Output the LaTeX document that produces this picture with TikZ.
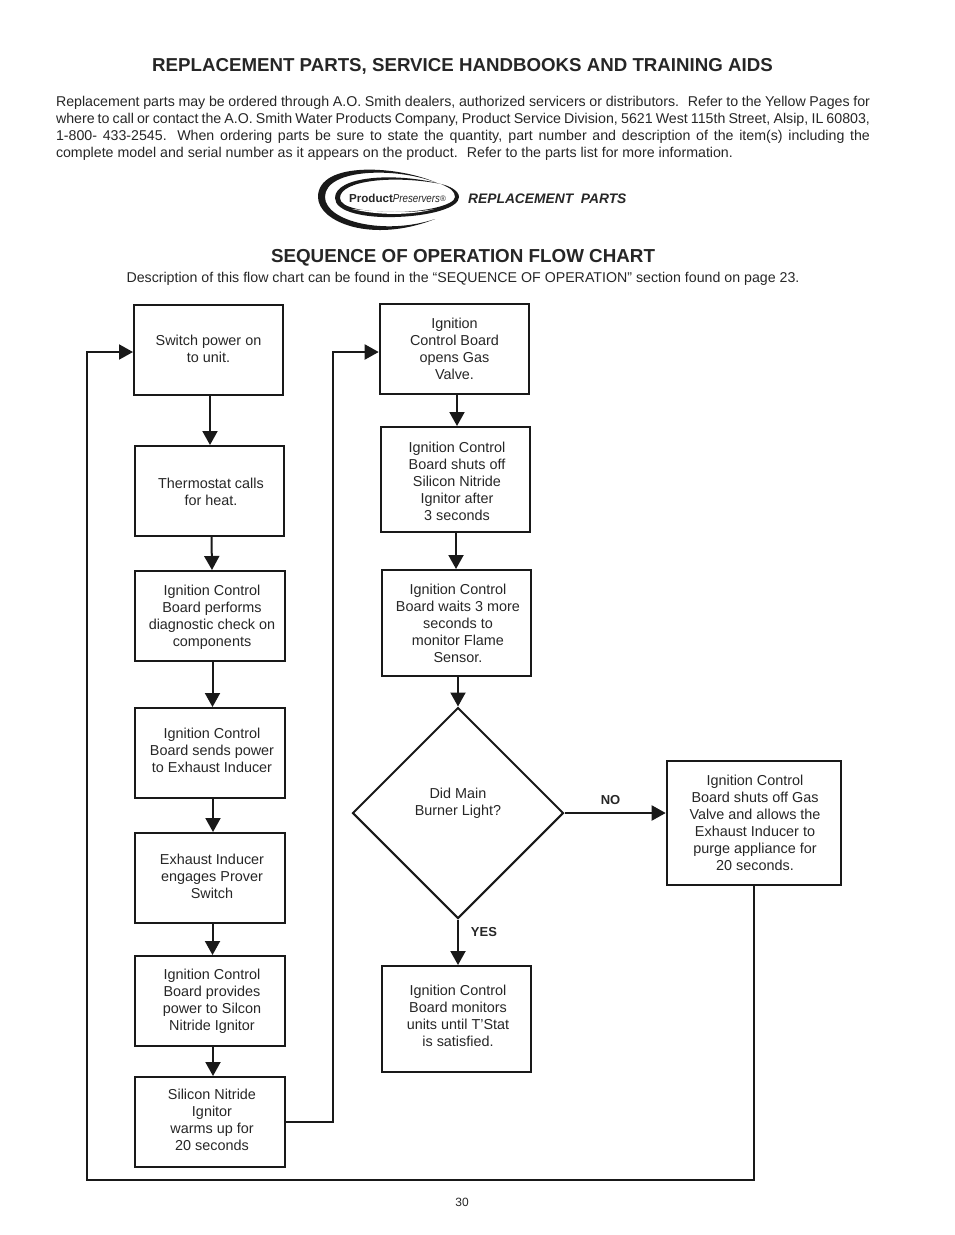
\documentclass[tikz,border=0pt]{standalone}
\usepackage{fontspec}
\setmainfont{Liberation Sans}
\usetikzlibrary{arrows.meta,shapes.geometric}
% #1 and #2 nudge the lines inside the box (twice the wanted offset)
\newcommand{\steptext}[3]{\vbox{\hbox{\kern#1pt\begin{tabular}{@{}c@{}}#3\end{tabular}}\vskip\dimexpr#2pt-4pt\relax}}
\tikzset{x=1pt,y=-1pt,
    every node/.style={text=black!85},
    stepbox/.style={draw=black!90,line width=2pt,inner sep=0pt,
        font=\fontsize{14.4}{17}\selectfont},
    flow/.style={draw=black!90,line width=2pt,-{Triangle[length=14pt,width=15pt]}},
    label/.style={font=\fontsize{13}{15}\bfseries\selectfont,inner sep=0pt},
    }
\begin{document}
\begin{tikzpicture}
\useasboundingbox (0,0) rectangle (954,1235);
% page headings
\node[font=\fontsize{18.7}{22}\bfseries\selectfont] (title) at (462.5,66) {REPLACEMENT PARTS, SERVICE HANDBOOKS AND TRAINING AIDS};
\node[text width=814pt,align=justify,inner sep=0pt,font=\fontsize{14.2}{17}\selectfont] (intro) at (463,128) {Replacement parts may be ordered through A.O. Smith dealers, authorized servicers or distributors.~ Refer to the Yellow Pages for\linebreak where to call or contact the A.O. Smith Water Products Company, Product Service Division, 5621 West 115th Street, Alsip, IL 60803,\linebreak 1-800- 433-2545. When ordering parts be sure to state the quantity, part number and description of the item(s) including the\linebreak complete model and serial number as it appears on the product.~ Refer to the parts list for more information.};
% logo
\fill[black!90] (437,183) .. controls (400,166) and (318,160) .. (318,197) .. controls (318,222) and (372,244) .. (435,219) .. controls (384,236) and (325,221) .. (325,197) .. controls (325,168) and (398,167) .. (437,183) -- cycle;
\fill[black!90] (441,184) .. controls (395,172) and (335,176) .. (335,198) .. controls (335,212) and (365,218) .. (395,217) .. controls (430,216) and (459,208) .. (459,197) .. controls (459,191) and (450,186) .. (441,184) .. controls (450,188) and (455,191) .. (455,197) .. controls (455,205) and (425,212) .. (395,212) .. controls (365,212) and (340,208) .. (340,198) .. controls (340,180) and (395,175) .. (441,184) -- cycle;
\fill[white] (352,209) .. controls (380,212) and (410,214) .. (434,209) .. controls (410,216) and (375,215) .. (352,209) -- cycle;
\node[inner sep=0pt,font=\fontsize{11.5}{12}\selectfont] (logo) at (397.5,198) {\fontsize{11.6}{12}\selectfont\textbf{Product}\scalebox{.84}[1]{\textit{Preservers}}\raisebox{1pt}{\fontsize{8}{8}\selectfont®}};
\node[inner sep=0pt,anchor=west,font=\fontsize{13.8}{17}\bfseries\itshape\selectfont] (parts) at (468,198.5) {REPLACEMENT~ PARTS};
\node[font=\fontsize{18.8}{22}\bfseries\selectfont] (seq) at (463,258) {SEQUENCE OF OPERATION FLOW CHART};
\node[font=\fontsize{14.2}{17}\selectfont] (desc) at (463,279) {Description of this flow chart can be found in the “SEQUENCE OF OPERATION” section found on page 23.};
% left column
\node[stepbox,minimum width=149pt,minimum height=90pt] (power) at (208.5,350) {\steptext{0}{2}{Switch power on\\to unit.}};
\node[stepbox,minimum width=149pt,minimum height=90pt] (stat) at (209.5,491) {\steptext{3}{-2}{Thermostat calls\\for heat.}};
\node[stepbox,minimum width=150pt,minimum height=90pt] (check) at (210,616) {\steptext{4}{1}{Ignition Control\\Board performs\\diagnostic check on\\components}};
\node[stepbox,minimum width=150pt,minimum height=90pt] (sends) at (210,753) {\steptext{4}{6}{Ignition Control\\Board sends power\\to Exhaust Inducer}};
\node[stepbox,minimum width=150pt,minimum height=90pt] (inducer) at (210,878) {\steptext{4}{4}{Exhaust Inducer\\engages Prover\\Switch}};
\node[stepbox,minimum width=150pt,minimum height=90pt] (provides) at (210,1001) {\steptext{4}{3}{Ignition Control\\Board provides\\power to Silcon\\Nitride Ignitor}};
\node[stepbox,minimum width=150pt,minimum height=90pt] (warms) at (210,1122) {\steptext{4}{4}{Silicon Nitride\\Ignitor\\warms up for\\20 seconds}};
% middle column
\node[stepbox,line width=2.6pt,minimum width=149pt,minimum height=90pt] (opens) at (454.5,349) {\steptext{0}{0}{Ignition\\Control Board\\opens Gas\\Valve.}};
\node[stepbox,minimum width=149pt,minimum height=105pt] (shuts) at (455.5,479.5) {\steptext{3}{-3}{Ignition Control\\Board shuts off\\Silicon Nitride\\Ignitor after\\3 seconds}};
\node[stepbox,minimum width=149pt,minimum height=106pt] (waits) at (456.5,623) {\steptext{3}{0}{Ignition Control\\Board waits 3 more\\seconds to\\monitor Flame\\Sensor.}};
\node[stepbox,shape=diamond,aspect=1,minimum width=211pt,minimum height=211pt] (burner) at (458,813) {\steptext{0}{23}{Did Main\\Burner Light?}};
\node[stepbox,minimum width=149pt,minimum height=106pt] (monitors) at (456.5,1019) {\steptext{3}{6}{Ignition Control\\Board monitors\\units until T’Stat\\is satisfied.}};
% right box
\node[stepbox,line width=2.6pt,minimum width=174pt,minimum height=124pt] (purge) at (754,823) {\steptext{2}{0}{Ignition Control\\Board shuts off Gas\\Valve and allows the\\Exhaust Inducer to\\purge appliance for\\20 seconds.}};
% connectors
\draw[flow] ([xshift=1.5pt]power.south) -- ([xshift=.5pt]stat.north);
\draw[flow] ([xshift=2pt]stat.south) -- ([xshift=2pt]check.north);
\draw[flow] ([xshift=2.5pt]check.south) -- ([xshift=2.5pt]sends.north);
\draw[flow] ([xshift=3pt]sends.south) -- ([xshift=3pt]inducer.north);
\draw[flow] ([xshift=2.5pt]inducer.south) -- ([xshift=2.5pt]provides.north);
\draw[flow] ([xshift=3pt]provides.south) -- ([xshift=3pt]warms.north);
\draw[flow] ([xshift=2.5pt]opens.south) -- ([xshift=1.5pt]shuts.north);
\draw[flow] ([xshift=.5pt]shuts.south) -- ([xshift=-.5pt]waits.north);
\draw[flow] ([xshift=1.5pt]waits.south) -- (burner.north);
\draw[flow] (burner.south) -- ([xshift=1.5pt]monitors.north);
\draw[flow] (burner.east) -- (purge.west |- burner.east);
\draw[flow] (warms.east) -- ++(46.5,0) |- ([yshift=-3pt]opens.west);
\draw[flow] (purge.south) -- ++(0,294) -| (87,352) -- (power.west |- 87,352);
% labels
\node[label] (no) at (610.5,800) {NO};
\node[label] (yes) at (484,932) {YES};
\node[inner sep=0pt,font=\fontsize{12}{14}\selectfont] (page) at (462,1202) {30};
\end{tikzpicture}
\end{document}
